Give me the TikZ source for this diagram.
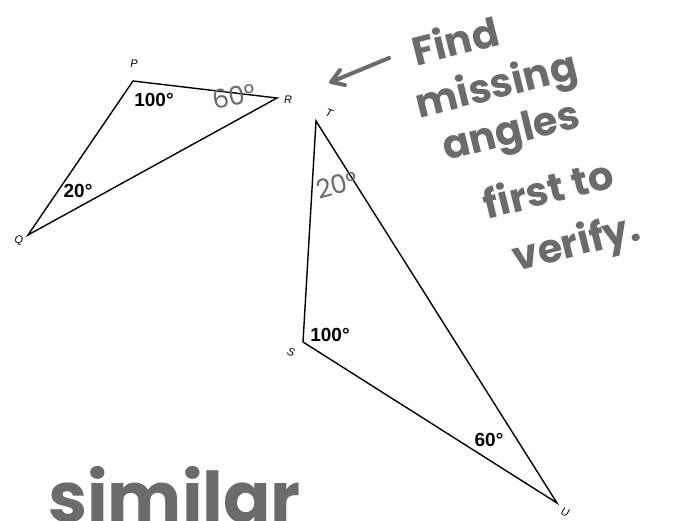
\documentclass[tikz,border=0pt]{standalone}
\usepackage{fontspec}
\setmainfont{Liberation Sans}
\newfontfamily\hand{Poppins}
\usetikzlibrary{arrows.meta}
\definecolor{pencil}{gray}{0.42}
\tikzset{
  edge/.style={line width=1.4pt, black},
  vlabel/.style={font=\fontsize{11}{11}\selectfont\itshape, inner sep=0pt},
  angle/.style={font=\fontsize{19}{19}\selectfont\bfseries, inner sep=0pt},
  handtxt/.style={font=\hand\fontsize{40}{40}\selectfont\bfseries, text=pencil, inner sep=0pt},
  handang/.style={font=\hand\fontsize{26}{26}\selectfont, text=pencil, inner sep=0pt},
}
\begin{document}
\begin{tikzpicture}[x=1pt,y=-1pt]
\useasboundingbox (0,0) rectangle (676,521);
\clip (0,0) rectangle (676,521);
% triangle PQR
\coordinate (P) at (133,81);
\coordinate (R) at (277,98);
\coordinate (Q) at (28,235);
\draw[edge] (P) -- (R) -- (Q) -- cycle;
\node[vlabel] (lP) at (134,64) {P};
\node[vlabel] (lR) at (288,100) {R};
\node[vlabel] (lQ) at (19,241) {Q};
\node[angle] (aP) at (154,100) {100°};
\node[angle] (aQ) at (78,191) {20°};
\node[handang, rotate=10] (aR) at (234,96) {60°};
% triangle STU
\coordinate (T) at (316,121);
\coordinate (S) at (303,342);
\coordinate (U) at (557,503);
\draw[edge] (T) -- (S) -- (U) -- cycle;
\node[vlabel, rotate=-20] (lT) at (329,113) {T};
\node[vlabel, rotate=-20] (lS) at (291,352) {S};
\node[vlabel, rotate=-20] (lU) at (565,512) {U};
\node[angle] (aS) at (330,335) {100°};
\node[angle] (aU) at (489,440) {60°};
\node[handang, rotate=15] (aT) at (337,185) {20°};
% handwritten note
\node[handtxt, rotate=14] (f1) at (455,40) {Find};
\node[handtxt, rotate=14] (f2) at (497,88) {missing};
\node[handtxt, rotate=14] (f3) at (512,135) {angles};
\node[handtxt, rotate=14] (f4) at (548,188) {first to};
\node[handtxt, rotate=14] (f5) at (577,245) {verify.};
\coordinate (arrS) at (389,58);
\coordinate (arrE) at (331,82);
\draw[pencil, line width=4pt, line cap=round, line join=round] (arrS) -- (arrE) -- ++(9,-12) (arrE) -- ++(14,3);
% similar
\node[handtxt, font=\hand\fontsize{70}{70}\selectfont\bfseries, anchor=base west] (sim) at (48,522) {similar};
\end{tikzpicture}
\end{document}
